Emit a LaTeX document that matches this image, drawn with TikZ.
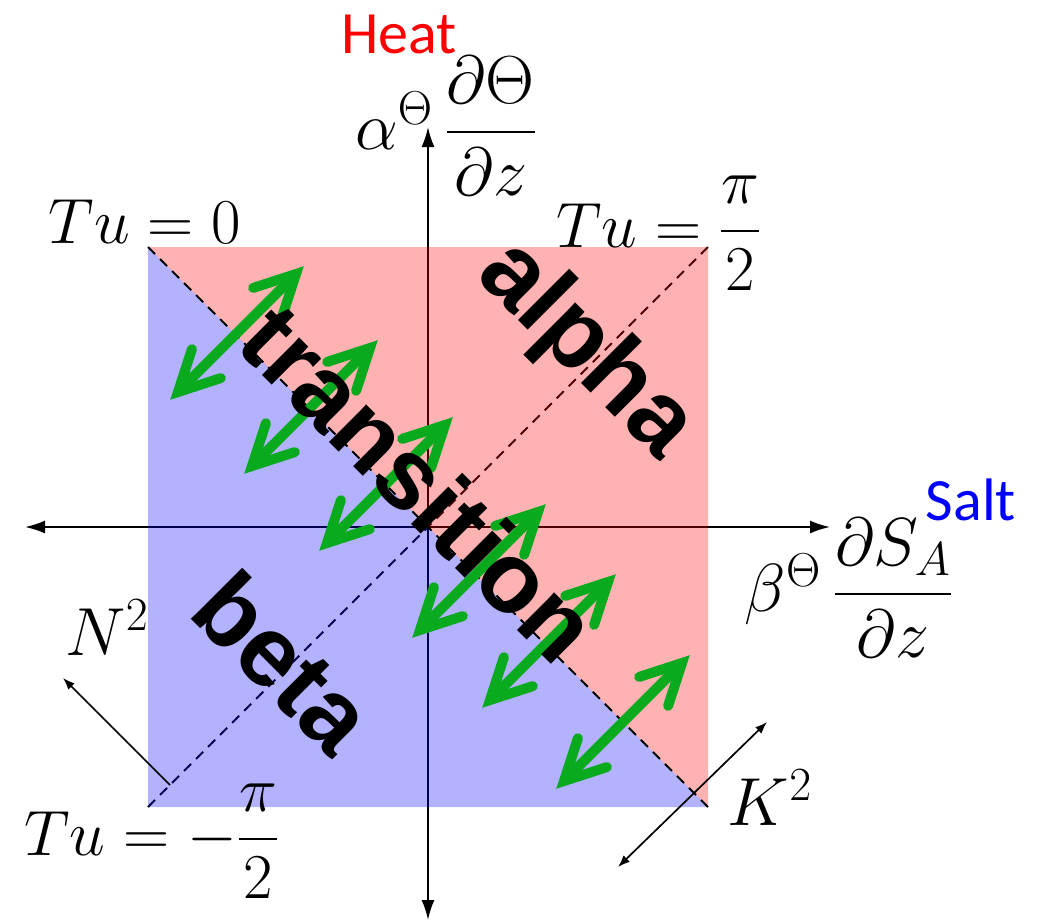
\documentclass[tikz,border=0pt]{standalone}
\usepackage{fix-cm}
\usepackage{amsmath}
\usepackage{fontspec}
\newfontfamily\labfont{Liberation Sans}
\newfontfamily\calfont{Carlito}
\usetikzlibrary{arrows.meta}
\definecolor{garrowc}{RGB}{10,170,30}
\begin{document}
\begin{tikzpicture}[x=0.5pt,y=-0.5pt,
  axisline/.style={line width=1pt,{Latex[length=10pt,width=6.5pt]}-{Latex[length=10pt,width=6.5pt]}},
  thinarrow/.style={line width=0.85pt,-{Latex[length=6pt,width=4.5pt]}},
  thindbl/.style={line width=0.85pt,{Latex[length=6pt,width=4.5pt]}-{Latex[length=6pt,width=4.5pt]}},
  dashline/.style={line width=0.95pt,dash pattern=on 5pt off 3.5pt},
  bigword/.style={font=\labfont\bfseries\fontsize{50}{60}\selectfont,rotate=-45,anchor=base,inner sep=0pt},
  mathlab/.style={font=\fontsize{32}{38}\selectfont,anchor=base,inner sep=0pt},
  mathbig/.style={font=\fontsize{34}{40}\selectfont,anchor=base,inner sep=0pt},
  callab/.style={font=\calfont\fontsize{30}{36}\selectfont,anchor=base,inner sep=0pt},
  garr/.pic={
    \draw[line width=5pt,garrowc] (-59,59) -- (59,-59);
    \draw[line width=5pt,garrowc,line cap=round,line join=miter] (45.1,-16.2) -- (59,-59) -- (16.2,-45.1);
    \draw[line width=5pt,garrowc,line cap=round,line join=miter] (-45.1,16.2) -- (-59,59) -- (-16.2,45.1);
  }
]
\useasboundingbox (0,0) rectangle (1048,923);
\coordinate (TL) at (148,247);
\coordinate (TR) at (708,247);
\coordinate (BL) at (148,807);
\coordinate (BR) at (708,807);
\coordinate (AN) at (428,127);
\coordinate (AS) at (428,920);
\coordinate (AW) at (25,527);
\coordinate (AE) at (830,527);
% axes and diagonal below the tinted regions
\draw[axisline] (AS) -- (AN);
\draw[axisline] (AW) -- (AE);
\draw[dashline] (BL) -- (TR);
% tinted regions
\fill[red,opacity=0.3] (TL) -- (TR) -- (BR) -- cycle;
\fill[blue,opacity=0.3] (TL) -- (BL) -- (BR) -- cycle;
\draw[dashline] (TL) -- (BR);
% green arrows
\pic at (237,333) {garr};
\pic at (311,407) {garr};
\pic at (386,484) {garr};
\pic at (479,571) {garr};
\pic at (549,641) {garr};
\pic at (623,722) {garr};
% region words
\node[bigword] (wtrans) at (395,508) {transition};
\node[bigword] (walpha) at (567,369) {alpha};
\node[bigword] (wbeta) at (259,687) {beta};
% labels
\node[mathlab] (tu0) at (145,243) {$Tu=0$};
\node[mathlab] (tupi) at (659,247) {$Tu=\dfrac{\pi}{2}$};
\node[mathlab] (tumpi) at (152,855) {$Tu=-\dfrac{\pi}{2}$};
\node[mathbig] (alab) at (446,149) {$\alpha^{\Theta}\,\dfrac{\partial\Theta}{\partial z}$};
\node[mathbig] (blab) at (849,611) {$\beta^{\Theta}\,\dfrac{\partial S_A}{\partial z}$};
\node[mathbig] (nlab) at (107,655) {$N^2$};
\node[mathbig] (klab) at (770,825) {$K^2$};
\node[callab,text=red] (heat) at (399,53) {Heat};
\node[callab,text=blue] (salt) at (971,520) {Salt};
% N^2 and K^2 arrows
\coordinate (ns) at (170,785);
\coordinate (ne) at (63,678);
\draw[thinarrow] (ns) -- (ne);
\coordinate (ka) at (618,867);
\coordinate (kb) at (767,722);
\draw[thindbl] (ka) -- (kb);
\end{tikzpicture}
\end{document}
